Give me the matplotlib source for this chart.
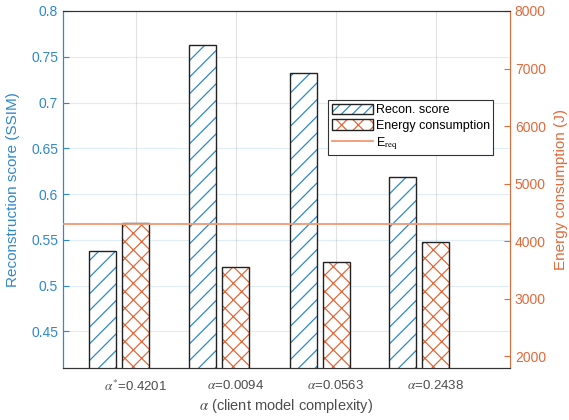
import matplotlib
matplotlib.use("Agg")
import matplotlib.pyplot as plt
import numpy as np
from matplotlib.patches import Patch
from matplotlib.lines import Line2D

plt.rcParams['font.family'] = ['Liberation Sans', 'DejaVu Sans']
plt.rcParams['mathtext.fontset'] = 'stix'
plt.rcParams['hatch.linewidth'] = 0.9

categories = [r'$\alpha^{*}$=0.4201', r'$\alpha$=0.0094', r'$\alpha$=0.0563', r'$\alpha$=0.2438']
recon_score = [0.538, 0.763, 0.732, 0.619]
energy = [4310, 3553, 3647, 3988]
e_req = 4300

BLUE = '#0072BD'
BLUE_T = '#2f88cc'
ORANGE_T = '#e2693a'
EREQ_C = '#f09a74'

fig = plt.figure(figsize=(5.69, 4.20), dpi=100)
ax1 = fig.add_axes([63/569, 52/420, 447/569, 357/420])
ax2 = ax1.twinx()

x = np.arange(1, len(categories) + 1)
w = 0.27
off = 0.33

ax1.bar(x - off, recon_score, width=w, facecolor='white', edgecolor=BLUE_T, hatch='//', linewidth=0, zorder=2)
ax1.bar(x - off, recon_score, width=w, fill=False, edgecolor='#222222', linewidth=1.0, zorder=3)
ax2.bar(x, energy, width=w, facecolor='white', edgecolor=ORANGE_T, hatch='xx', linewidth=0, zorder=2)
ax2.bar(x, energy, width=w, fill=False, edgecolor='#222222', linewidth=1.0, zorder=3)
ax2.axhline(e_req, color=EREQ_C, linewidth=1.3, zorder=4)

ax1.set_xlim(0.27, 4.74)
ax1.set_ylim(0.41, 0.8)
ax2.set_ylim(1800, 8000)

ax1.set_yticks([0.45, 0.5, 0.55, 0.6, 0.65, 0.7, 0.75, 0.8])
ax1.set_yticklabels(['0.45', '0.5', '0.55', '0.6', '0.65', '0.7', '0.75', '0.8'])
ax2.set_yticks([2000, 3000, 4000, 5000, 6000, 7000, 8000])
ax1.set_xticks(x)
ax1.set_xticklabels(categories)

# grid
for yv in [0.45, 0.5, 0.55, 0.6, 0.65, 0.7, 0.75]:
    ax1.axhline(yv, color=BLUE, alpha=0.12, linewidth=0.8, zorder=0)
for xv in x:
    ax1.axvline(xv, color='#888888', alpha=0.25, linewidth=0.8, zorder=0)

ax1.tick_params(axis='y', direction='in', length=4, colors=BLUE_T, labelsize=10, labelcolor=BLUE_T, right=False)
ax2.tick_params(axis='y', direction='in', length=4, colors=ORANGE_T, labelsize=10, labelcolor=ORANGE_T)
ax1.tick_params(axis='x', direction='in', length=4, colors='#333333', labelsize=9.5, labelcolor='#4d4d4d', pad=8, top=False)

for ax in (ax1, ax2):
    ax.spines['top'].set_color('#333333')
    ax.spines['bottom'].set_color('#333333')
ax2.spines['left'].set_color(BLUE_T)
ax1.spines['left'].set_color(BLUE_T)
ax2.spines['right'].set_color(ORANGE_T)
ax1.spines['right'].set_visible(False)

ax1.set_ylabel('Reconstruction score (SSIM)', color=BLUE_T, fontsize=11, labelpad=8)
ax2.set_ylabel('Energy consumption (J)', color=ORANGE_T, fontsize=11, labelpad=6)
ax1.set_xlabel(r'$\alpha$ (client model complexity)', color='#4d4d4d', fontsize=10.5, labelpad=2)

h_blue = Patch(facecolor='white', edgecolor=BLUE_T, hatch='///', linewidth=0)
h_orng = Patch(facecolor='white', edgecolor=ORANGE_T, hatch='xx', linewidth=0)
b1 = Patch(facecolor='none', edgecolor='#222222', linewidth=1.0)
b2 = Patch(facecolor='none', edgecolor='#222222', linewidth=1.0)
h_line = Line2D([0], [0], color=EREQ_C, linewidth=1.3)
handles = [(h_blue, b1), (h_orng, b2), h_line]
leg = ax2.legend(handles, ['Recon. score', 'Energy consumption', r'E$_{\mathrm{req}}$'],
                 loc='upper left', bbox_to_anchor=(0.593, 0.751), borderaxespad=0,
                 fontsize=9, frameon=True, fancybox=False, framealpha=1,
                 edgecolor='#333333', handlelength=3.3, handleheight=0.9,
                 handletextpad=0.2, borderpad=0.3, labelspacing=0.25)
leg.get_frame().set_linewidth(0.8)

fig.savefig('out.png', dpi=100)
